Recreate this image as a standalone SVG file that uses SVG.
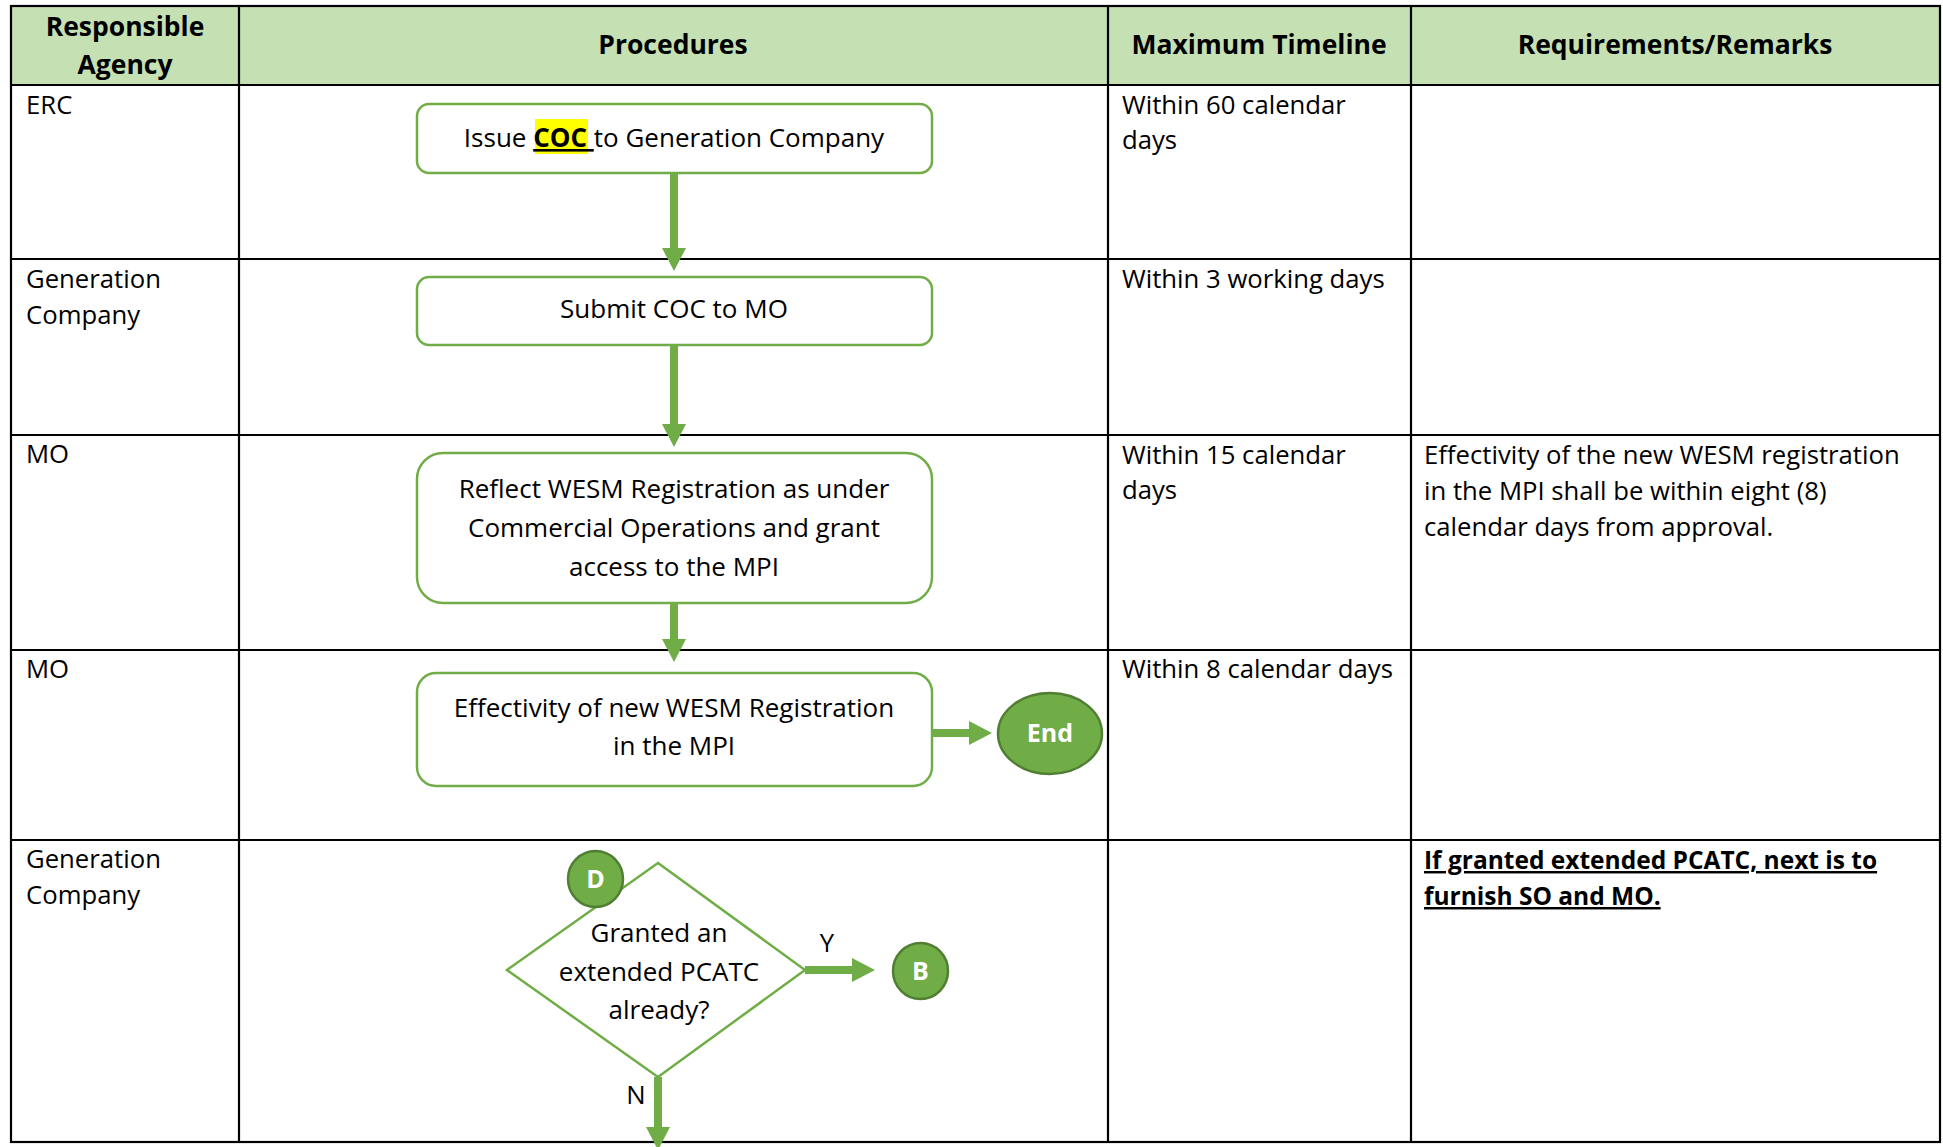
<svg xmlns="http://www.w3.org/2000/svg" width="1943" height="1147" viewBox="0 0 1943 1147">
<style>
.t{font-family:"Open Sans","Liberation Sans",sans-serif;font-size:25.7px;fill:#000}
.bx{font-family:"Open Sans","Liberation Sans",sans-serif;font-size:26px;fill:#000;text-anchor:middle}
.h{font-family:"Open Sans","Liberation Sans",sans-serif;font-size:26.5px;font-weight:bold;fill:#000;text-anchor:middle}
.node{fill:#fff;stroke:#70AD47;stroke-width:2.5}
.term{fill:#70AD47;stroke:#507E32;stroke-width:2.5}
.tw{font-family:"Open Sans","Liberation Sans",sans-serif;font-size:25px;font-weight:bold;fill:#fff;text-anchor:middle}
.grid{stroke:#000;stroke-width:2.2;fill:none}
.conn{stroke:#70AD47;stroke-width:8;fill:none}
.rb{font-family:"Open Sans","Liberation Sans",sans-serif;font-size:24.5px;font-weight:bold;fill:#000;text-decoration:underline}
</style>
<defs>
<marker id="ah" markerUnits="userSpaceOnUse" markerWidth="24" markerHeight="24" refX="0" refY="12" orient="auto">
<path d="M0,0 L23,12 L0,24 Z" fill="#70AD47"/>
</marker>
</defs>
<rect x="0" y="0" width="1943" height="1147" fill="#fff"/>
<g id="table">
<rect x="11" y="6" width="1929" height="79" fill="#C5E0B3"/>
<rect class="grid" x="11" y="6" width="1929" height="1136"/>
<line class="grid" x1="239" y1="6" x2="239" y2="1142"/>
<line class="grid" x1="1108" y1="6" x2="1108" y2="1142"/>
<line class="grid" x1="1411" y1="6" x2="1411" y2="1142"/>
<line class="grid" x1="11" y1="85" x2="1940" y2="85"/>
<line class="grid" x1="11" y1="259" x2="1940" y2="259"/>
<line class="grid" x1="11" y1="435" x2="1940" y2="435"/>
<line class="grid" x1="11" y1="650" x2="1940" y2="650"/>
<line class="grid" x1="11" y1="840" x2="1940" y2="840"/>
<text class="h" x="125" y="36" font-size="27">Responsible</text>
<text class="h" x="125" y="74" font-size="27">Agency</text>
<text class="h" x="673" y="54">Procedures</text>
<text class="h" x="1259" y="54">Maximum Timeline</text>
<text class="h" x="1675" y="54">Requirements/Remarks</text>
<text class="t" x="26" y="114">ERC</text>
<text class="t" x="26" y="288">Generation</text>
<text class="t" x="26" y="324">Company</text>
<text class="t" x="26" y="463">MO</text>
<text class="t" x="26" y="678">MO</text>
<text class="t" x="26" y="868">Generation</text>
<text class="t" x="26" y="904">Company</text>
<text class="t" x="1122" y="114">Within 60 calendar</text>
<text class="t" x="1122" y="149">days</text>
<text class="t" x="1122" y="288">Within 3 working days</text>
<text class="t" x="1122" y="464">Within 15 calendar</text>
<text class="t" x="1122" y="499">days</text>
<text class="t" x="1122" y="678">Within 8 calendar days</text>
<text class="t" x="1424" y="464">Effectivity of the new WESM registration</text>
<text class="t" x="1424" y="500">in the MPI shall be within eight (8)</text>
<text class="t" x="1424" y="536">calendar days from approval.</text>
<text class="rb" x="1424" y="869">If granted extended PCATC, next is to</text>
<text class="rb" x="1424" y="905">furnish SO and MO.</text>
</g>
<g id="connectors">
<line class="conn" x1="674" y1="173" x2="674" y2="248" marker-end="url(#ah)"/>
<line class="conn" x1="674" y1="345" x2="674" y2="424" marker-end="url(#ah)"/>
<line class="conn" x1="674" y1="603" x2="674" y2="639" marker-end="url(#ah)"/>
<line class="conn" x1="932" y1="733" x2="969" y2="733" marker-end="url(#ah)"/>
<line class="conn" x1="805" y1="970" x2="852" y2="970" marker-end="url(#ah)"/>
<line class="conn" x1="658" y1="1077" x2="658" y2="1127" marker-end="url(#ah)"/>
<text class="t" x="827" y="952" text-anchor="middle">Y</text>
<text class="t" x="636" y="1104" text-anchor="middle">N</text>
</g>
<g id="n1">
<rect class="node" x="417" y="104" width="515" height="69" rx="12"/>
<rect x="535" y="119" width="53" height="35" fill="#FFFF00"/>
<text class="bx" x="674" y="147">Issue <tspan font-weight="bold" text-decoration="underline">COC </tspan>to Generation Company</text>
</g>
<g id="n2">
<rect class="node" x="417" y="277" width="515" height="68" rx="12"/>
<text class="bx" x="674" y="318">Submit COC to MO</text>
</g>
<g id="n3">
<rect class="node" x="417" y="453" width="515" height="150" rx="26"/>
<text class="bx" x="674" y="498">Reflect WESM Registration as under</text>
<text class="bx" x="674" y="537">Commercial Operations and grant</text>
<text class="bx" x="674" y="576">access to the MPI</text>
</g>
<g id="n4">
<rect class="node" x="417" y="673" width="515" height="113" rx="19"/>
<text class="bx" x="674" y="717">Effectivity of new WESM Registration</text>
<text class="bx" x="674" y="755">in the MPI</text>
</g>
<g id="end">
<ellipse class="term" cx="1050" cy="733.5" rx="52" ry="40.5"/>
<text class="tw" x="1050" y="742">End</text>
</g>
<g id="decision">
<polygon points="658,863 805,970 658,1077 507,970" fill="#fff" stroke="#70AD47" stroke-width="2.5"/>
<text class="bx" x="659" y="942">Granted an</text>
<text class="bx" x="659" y="981">extended PCATC</text>
<text class="bx" x="659" y="1019">already?</text>
</g>
<g id="D">
<ellipse class="term" cx="595.5" cy="879" rx="27.5" ry="28"/>
<text class="tw" x="595.5" y="888">D</text>
</g>
<g id="B">
<ellipse class="term" cx="920.5" cy="971" rx="27.5" ry="28"/>
<text class="tw" x="920.5" y="980">B</text>
</g>
</svg>
